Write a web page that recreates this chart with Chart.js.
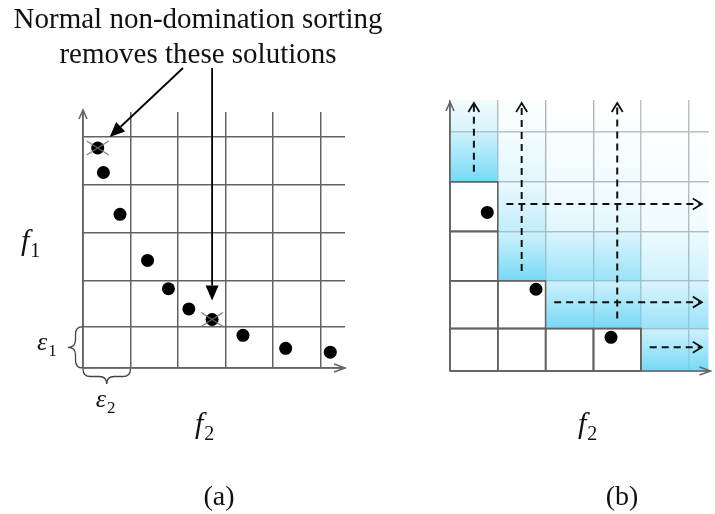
<!DOCTYPE html>
<html>
<head>
<meta charset="utf-8">
<script src="https://cdn.jsdelivr.net/npm/chart.js@4"></script>
<style>
  html, body { margin: 0; padding: 0; background: #fff; }
  .wrap { position: relative; width: 715px; height: 514px; overflow: hidden; }
  canvas { position: absolute; top: 0; }
  #chartA { left: 0; }
  #chartB { left: 400px; }
</style>
</head>
<body>
<div class="wrap">
  <canvas id="chartA" width="400" height="514"></canvas>
  <canvas id="chartB" width="315" height="514"></canvas>
</div>
<script>
// epsilon box edges along f2 (horizontal) and f1 (vertical)
const f2Bounds = [0, 1, 2, 3, 4, 5];
const f1Bounds = [0, 0.86, 1.82, 2.82, 3.82, 4.82];

// solutions of the front, as (f2, f1)
const solF2 = [0.31, 0.43, 0.78, 1.36, 1.80, 2.23, 2.72, 3.37, 4.27, 5.21];
const solF1 = [4.58, 4.07, 3.20, 2.24, 1.65, 1.23, 1.01, 0.68, 0.41, 0.33];

// solutions dropped by plain non-domination sorting (crossed out)
const removedIdx = [0, 6];
// solutions left after the epsilon-box comparison
const keptIdx = [2, 4, 7];

const noteLines = ['Normal non-domination sorting', 'removes these solutions'];
const panelNames = ['(a)', '(b)'];

const SERIF = '"Liberation Serif", "Times New Roman", serif';
const GRID = '#626262';

function boxOf(v, bounds) {
    let k = 0;
    bounds.forEach((b, i) => { if (v >= b) k = i; });
    return k;
}

function gridScale(bounds, max) {
    return {
        type: 'linear',
        min: 0,
        max: max,
        afterBuildTicks: (axis) => { axis.ticks = bounds.map(v => ({ value: v })); },
        ticks: { display: false },
        grid: { color: GRID, lineWidth: 1.5, drawTicks: false },
        border: { display: false }
    };
}

function drawAxes(ctx, area, xEnd, yEnd) {
    ctx.save();
    ctx.strokeStyle = '#666';
    ctx.lineWidth = 1.6;
    ctx.beginPath();
    ctx.moveTo(area.left, area.bottom);
    ctx.lineTo(xEnd, area.bottom);
    ctx.moveTo(xEnd - 11, area.bottom - 4);
    ctx.lineTo(xEnd, area.bottom);
    ctx.lineTo(xEnd - 11, area.bottom + 4);
    ctx.moveTo(area.left, area.bottom);
    ctx.lineTo(area.left, yEnd);
    ctx.moveTo(area.left - 4, yEnd + 9);
    ctx.lineTo(area.left, yEnd);
    ctx.lineTo(area.left + 4, yEnd + 9);
    ctx.stroke();
    ctx.restore();
}

// text with a smaller upright subscript, e.g. f1, ε2
function subLabel(ctx, main, sub, x, y, size) {
    ctx.save();
    ctx.fillStyle = '#111';
    ctx.textAlign = 'left';
    ctx.textBaseline = 'alphabetic';
    ctx.font = `italic ${size}px ${SERIF}`;
    ctx.fillText(main, x, y);
    const w = ctx.measureText(main).width;
    ctx.font = `${Math.round(size * 0.66)}px ${SERIF}`;
    ctx.fillText(sub, x + w + 1, y + size * 0.22);
    ctx.restore();
}

function braceLeft(ctx, x, y1, y2, d) {
    const ym = (y1 + y2) / 2, h = d / 2;
    ctx.beginPath();
    ctx.moveTo(x, y1);
    ctx.quadraticCurveTo(x - h, y1, x - h, y1 + h);
    ctx.lineTo(x - h, ym - h);
    ctx.quadraticCurveTo(x - h, ym, x - d, ym);
    ctx.quadraticCurveTo(x - h, ym, x - h, ym + h);
    ctx.lineTo(x - h, y2 - h);
    ctx.quadraticCurveTo(x - h, y2, x, y2);
    ctx.stroke();
}

function braceDown(ctx, y, x1, x2, d) {
    const xm = (x1 + x2) / 2, h = d / 2;
    ctx.beginPath();
    ctx.moveTo(x1, y);
    ctx.quadraticCurveTo(x1, y + h, x1 + h, y + h);
    ctx.lineTo(xm - h, y + h);
    ctx.quadraticCurveTo(xm, y + h, xm, y + d);
    ctx.quadraticCurveTo(xm, y + h, xm + h, y + h);
    ctx.lineTo(x2 - h, y + h);
    ctx.quadraticCurveTo(x2, y + h, x2, y);
    ctx.stroke();
}

function solidArrow(ctx, x1, y1, x2, y2) {
    const a = Math.atan2(y2 - y1, x2 - x1), len = 15, half = 6.5;
    const bx = x2 - len * Math.cos(a), by = y2 - len * Math.sin(a);
    ctx.save();
    ctx.strokeStyle = '#000';
    ctx.fillStyle = '#000';
    ctx.lineWidth = 1.8;
    ctx.beginPath();
    ctx.moveTo(x1, y1);
    ctx.lineTo(bx, by);
    ctx.stroke();
    ctx.beginPath();
    ctx.moveTo(x2, y2);
    ctx.lineTo(bx + half * Math.sin(a), by - half * Math.cos(a));
    ctx.lineTo(bx - half * Math.sin(a), by + half * Math.cos(a));
    ctx.closePath();
    ctx.fill();
    ctx.restore();
}

function dashedArrow(ctx, x1, y1, x2, y2) {
    const a = Math.atan2(y2 - y1, x2 - x1), len = 9, half = 5.5;
    const bx = x2 - len * Math.cos(a), by = y2 - len * Math.sin(a);
    ctx.save();
    ctx.strokeStyle = '#111';
    ctx.lineWidth = 2;
    ctx.setLineDash([7, 5]);
    ctx.beginPath();
    ctx.moveTo(x1, y1);
    ctx.lineTo(x2, y2);
    ctx.stroke();
    ctx.setLineDash([]);
    ctx.lineWidth = 1.8;
    ctx.beginPath();
    ctx.moveTo(bx + half * Math.sin(a), by - half * Math.cos(a));
    ctx.lineTo(x2, y2);
    ctx.lineTo(bx - half * Math.sin(a), by + half * Math.cos(a));
    ctx.stroke();
    ctx.restore();
}

// ---- panel (a): all solutions on the epsilon grid ----
const xMaxA = 5.52, yMaxA = 5.33;

const panelAPlugin = {
    id: 'panelA',
    beforeDatasetsDraw(chart) {
        const { ctx, chartArea: area } = chart;
        drawAxes(ctx, area, area.right, area.top - 2);
    },
    afterDatasetsDraw(chart) {
        const { ctx, chartArea: area, scales: { x, y } } = chart;

        // crosses over the dropped solutions
        ctx.save();
        ctx.strokeStyle = 'rgba(110,110,110,0.85)';
        ctx.lineWidth = 1.4;
        removedIdx.forEach(i => {
            const px = x.getPixelForValue(solF2[i]), py = y.getPixelForValue(solF1[i]);
            ctx.beginPath();
            ctx.moveTo(px - 11, py - 7); ctx.lineTo(px + 11, py + 7);
            ctx.moveTo(px - 11, py + 7); ctx.lineTo(px + 11, py - 7);
            ctx.stroke();
        });
        ctx.restore();

        // note and its arrows
        ctx.save();
        ctx.fillStyle = '#111';
        ctx.font = `29px ${SERIF}`;
        ctx.textAlign = 'center';
        ctx.textBaseline = 'alphabetic';
        const cx = area.left + 115;
        ctx.fillText(noteLines[0], cx, 28);
        ctx.fillText(noteLines[1], cx, 63);
        ctx.restore();

        const p0x = x.getPixelForValue(solF2[removedIdx[0]]), p0y = y.getPixelForValue(solF1[removedIdx[0]]);
        solidArrow(ctx, area.left + 100, 68, p0x + 12, p0y - 11);
        const p1x = x.getPixelForValue(solF2[removedIdx[1]]), p1y = y.getPixelForValue(solF1[removedIdx[1]]);
        solidArrow(ctx, p1x, 68, p1x, p1y - 19);

        // epsilon braces
        ctx.save();
        ctx.strokeStyle = '#444';
        ctx.lineWidth = 1.3;
        const e1a = y.getPixelForValue(f1Bounds[0]), e1b = y.getPixelForValue(f1Bounds[1]);
        braceLeft(ctx, area.left, e1b, e1a, 15);
        const e2a = x.getPixelForValue(f2Bounds[0]), e2b = x.getPixelForValue(f2Bounds[1]);
        braceDown(ctx, area.bottom + 1, e2a, e2b, 15);
        ctx.restore();

        subLabel(ctx, 'ε', '1', area.left - 46, (e1a + e1b) / 2 + 3, 26);
        subLabel(ctx, 'ε', '2', (e2a + e2b) / 2 - 11, area.bottom + 39, 26);
        subLabel(ctx, 'f', '1', area.left - 62, (area.top + area.bottom) / 2 + 10, 30);
        subLabel(ctx, 'f', '2', area.left + 112, area.bottom + 65, 30);

        ctx.save();
        ctx.fillStyle = '#111';
        ctx.font = `28px ${SERIF}`;
        ctx.textAlign = 'center';
        ctx.fillText(panelNames[0], area.left + 136, area.bottom + 137);
        ctx.restore();
    }
};

new Chart(document.getElementById('chartA'), {
    type: 'scatter',
    data: {
        datasets: [{
            data: solF2.map((v, i) => ({ x: v, y: solF1[i] })),
            pointRadius: 6.5,
            pointBackgroundColor: '#000',
            pointBorderWidth: 0
        }]
    },
    options: {
        responsive: false,
        animation: false,
        layout: { padding: { left: 83, right: 55, top: 112, bottom: 146 } },
        scales: { x: gridScale(f2Bounds, xMaxA), y: gridScale(f1Bounds, yMaxA) },
        plugins: { legend: { display: false }, tooltip: { enabled: false } }
    },
    plugins: [panelAPlugin]
});

// ---- panel (b): epsilon-nondominated solutions and the boxes they dominate ----
const xMaxB = 5.41, yMaxB = 5.47;
const keptBoxes = keptIdx.map(i => [boxOf(solF2[i], f2Bounds), boxOf(solF1[i], f1Bounds)]);

// lowest dominated row in a column of boxes
function firstDominatedRow(col) {
    let r = Infinity;
    keptBoxes.forEach(([a, b]) => {
        if (col > a) r = Math.min(r, b);
        else if (col === a) r = Math.min(r, b + 1);
    });
    return r;
}

// tint strength of a dominated box: strongest on the staircase edge, fading upwards
function tint(row, k) {
    if (k === 0) return 0.85;
    const high = row <= 2 ? 1 : (row <= 4 ? 0.6 : 0.4);
    return 0.85 * 0.75 * Math.pow(0.5, k - 1) * high;
}

const panelBPlugin = {
    id: 'panelB',
    beforeDatasetsDraw(chart) {
        const { ctx, chartArea: area, scales: { x, y } } = chart;
        const xs = [...f2Bounds, xMaxB], ys = [...f1Bounds, yMaxB];
        ctx.save();
        for (let c = 0; c < xs.length - 1; c++) {
            const r0 = firstDominatedRow(c);
            const x0 = x.getPixelForValue(xs[c]), x1 = x.getPixelForValue(xs[c + 1]);
            for (let r = r0; r < ys.length - 1; r++) {
                const yb = y.getPixelForValue(ys[r]), yt = y.getPixelForValue(ys[r + 1]);
                const s = tint(r, r - r0);
                ctx.fillStyle = 'rgba(255,255,255,0.62)';
                ctx.fillRect(x0, yt, x1 - x0, yb - yt);
                const g = ctx.createLinearGradient(0, yb, 0, yt);
                g.addColorStop(0, `rgba(95,210,245,${s})`);
                g.addColorStop(1, `rgba(95,210,245,${s * 0.35})`);
                ctx.fillStyle = g;
                ctx.fillRect(x0, yt, x1 - x0, yb - yt);
            }
        }
        // outline the boxes that are not dominated
        ctx.strokeStyle = GRID;
        ctx.lineWidth = 1.5;
        for (let c = 0; c < xs.length - 1; c++) {
            const r0 = firstDominatedRow(c);
            const x0 = x.getPixelForValue(xs[c]), x1 = x.getPixelForValue(xs[c + 1]);
            for (let r = 0; r < Math.min(r0, ys.length - 1); r++) {
                const yb = y.getPixelForValue(ys[r]), yt = y.getPixelForValue(ys[r + 1]);
                ctx.strokeRect(x0, yt, x1 - x0, yb - yt);
            }
        }
        ctx.restore();
        drawAxes(ctx, area, area.right + 2, area.top + 2);
    },
    afterDatasetsDraw(chart) {
        const { ctx, chartArea: area, scales: { x, y } } = chart;

        keptBoxes.forEach(([a, b]) => {
            const vx = x.getPixelForValue(f2Bounds[a] + 0.5);
            dashedArrow(ctx, vx, y.getPixelForValue(f1Bounds[b + 1] + 0.2), vx, y.getPixelForValue(yMaxB - 0.06));
            const hy = y.getPixelForValue((f1Bounds[b] + f1Bounds[b + 1]) / 2 + 0.05);
            dashedArrow(ctx, x.getPixelForValue(f2Bounds[a + 1] + 0.18), hy, x.getPixelForValue(xMaxB - 0.14), hy);
        });

        subLabel(ctx, 'f', '2', area.left + 128, area.bottom + 62, 30);
        ctx.save();
        ctx.fillStyle = '#111';
        ctx.font = `28px ${SERIF}`;
        ctx.textAlign = 'center';
        ctx.fillText(panelNames[1], area.left + 172, area.bottom + 134);
        ctx.restore();
    }
};

new Chart(document.getElementById('chartB'), {
    type: 'scatter',
    data: {
        datasets: [{
            data: keptIdx.map(i => ({ x: solF2[i], y: solF1[i] })),
            pointRadius: 6.5,
            pointBackgroundColor: '#000',
            pointBorderWidth: 0
        }]
    },
    options: {
        responsive: false,
        animation: false,
        layout: { padding: { left: 50, right: 0, top: 100, bottom: 143 } },
        scales: { x: gridScale(f2Bounds, xMaxB), y: gridScale(f1Bounds, yMaxB) },
        plugins: { legend: { display: false }, tooltip: { enabled: false } }
    },
    plugins: [panelBPlugin]
});
</script>
</body>
</html>
